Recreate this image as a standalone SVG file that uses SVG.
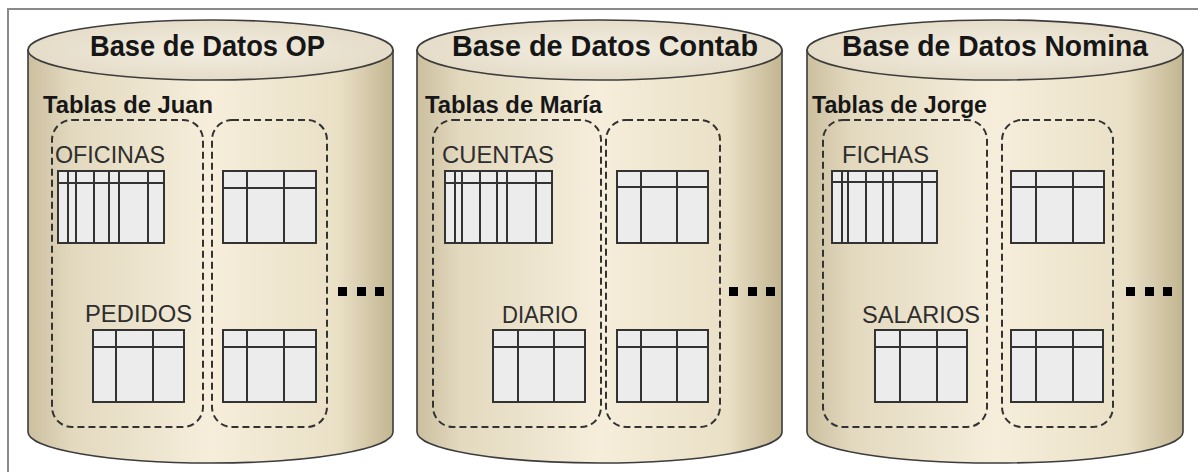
<svg xmlns="http://www.w3.org/2000/svg" width="1198" height="472" viewBox="0 0 1198 472">
<defs>
<linearGradient id="body" x1="0" y1="0" x2="1" y2="0">
<stop offset="0" stop-color="#cbbf9f"/>
<stop offset="0.12" stop-color="#e3d9bf"/>
<stop offset="0.5" stop-color="#f6eedb"/>
<stop offset="0.85" stop-color="#eae0c6"/>
<stop offset="1" stop-color="#c2b591"/>
</linearGradient>
<radialGradient id="top" cx="0.5" cy="0.5" r="0.6">
<stop offset="0" stop-color="#f3eee2"/>
<stop offset="1" stop-color="#e2d9c3"/>
</radialGradient>
<style>
.body{fill:url(#body);stroke:#3c3c3c;stroke-width:1.6}
.top{fill:url(#top);stroke:#3c3c3c;stroke-width:1.6}
.title{font-family:"Liberation Sans",Arial,sans-serif;font-weight:bold;font-size:29px;fill:#161616}
.owner{font-family:"Liberation Sans",Arial,sans-serif;font-weight:bold;font-size:23px;fill:#161616}
.tname{font-family:"Liberation Sans",Arial,sans-serif;font-size:23px;fill:#2e2e2e}
.grp{fill:none;stroke:#333;stroke-width:2;stroke-dasharray:7 4}
.tb{fill:#ececec;stroke:#333;stroke-width:2}
.tl{stroke:#333;stroke-width:2;fill:none}
.dot{fill:#000}
</style>
</defs>
<rect x="0" y="0" width="1198" height="472" fill="#fff"/>
<path d="M8,472 V9 H1198" fill="none" stroke="#8a8a8a" stroke-width="2"/>

<g id="db-op">
<path class="body" d="M28,50 V432 A182.5,31 0 0 0 393,432 V50 Z"/>
<ellipse class="top" cx="210.5" cy="50" rx="182.5" ry="30"/>
<text class="title" x="207.5" y="56" text-anchor="middle" textLength="235" lengthAdjust="spacingAndGlyphs">Base de Datos OP</text>
<text class="owner" x="43" y="113" textLength="170" lengthAdjust="spacingAndGlyphs">Tablas de Juan</text>
<rect class="grp" x="52" y="120" width="151" height="307" rx="20"/>
<rect class="grp" x="212" y="120" width="115" height="307" rx="20"/>
<text class="tname" x="55" y="163" textLength="110" lengthAdjust="spacingAndGlyphs">OFICINAS</text>
<rect class="tb" x="58" y="171" width="106" height="72"/>
<path class="tl" d="M58,183 H164 M68,171 V243 M76,171 V243 M94,171 V243 M109,171 V243 M119,171 V243 M148,171 V243"/>
<rect class="tb" x="223" y="171" width="93" height="72"/>
<path class="tl" d="M223,188 H316 M247,171 V243 M284,171 V243"/>
<text class="tname" x="85" y="322" textLength="107" lengthAdjust="spacingAndGlyphs">PEDIDOS</text>
<rect class="tb" x="93" y="330" width="91" height="72"/>
<path class="tl" d="M93,347 H184 M116,330 V402 M153,330 V402"/>
<rect class="tb" x="223" y="330" width="93" height="72"/>
<path class="tl" d="M223,347 H316 M247,330 V402 M284,330 V402"/>
<rect class="dot" x="338" y="287" width="9" height="9"/>
<rect class="dot" x="357" y="287" width="9" height="9"/>
<rect class="dot" x="375" y="287" width="9" height="9"/>
</g>

<g id="db-contab">
<path class="body" d="M417,50 V432 A182.5,31 0 0 0 782,432 V50 Z"/>
<ellipse class="top" cx="599.5" cy="50" rx="182.5" ry="30"/>
<text class="title" x="605" y="56" text-anchor="middle" textLength="306" lengthAdjust="spacingAndGlyphs">Base de Datos Contab</text>
<text class="owner" x="425" y="113" textLength="177" lengthAdjust="spacingAndGlyphs">Tablas de María</text>
<rect class="grp" x="433" y="120" width="168" height="307" rx="20"/>
<rect class="grp" x="606" y="120" width="114" height="307" rx="20"/>
<text class="tname" x="442" y="163" textLength="112" lengthAdjust="spacingAndGlyphs">CUENTAS</text>
<rect class="tb" x="445" y="171" width="107" height="72"/>
<path class="tl" d="M445,183 H552 M455,171 V243 M462,171 V243 M480,171 V243 M497,171 V243 M507,171 V243 M536,171 V243"/>
<rect class="tb" x="617" y="171" width="91" height="72"/>
<path class="tl" d="M617,187 H708 M641,171 V243 M677,171 V243"/>
<text class="tname" x="502" y="323" textLength="76" lengthAdjust="spacingAndGlyphs">DIARIO</text>
<rect class="tb" x="493" y="330" width="92" height="72"/>
<path class="tl" d="M493,347 H585 M518,330 V402 M554,330 V402"/>
<rect class="tb" x="617" y="330" width="91" height="72"/>
<path class="tl" d="M617,347 H708 M641,330 V402 M677,330 V402"/>
<rect class="dot" x="729" y="287" width="9" height="9"/>
<rect class="dot" x="748" y="287" width="9" height="9"/>
<rect class="dot" x="766" y="287" width="9" height="9"/>
</g>

<g id="db-nomina">
<path class="body" d="M807,50 V432 A188,31 0 0 0 1183,432 V50 Z"/>
<ellipse class="top" cx="995" cy="50" rx="188" ry="30"/>
<text class="title" x="995" y="56" text-anchor="middle" textLength="306" lengthAdjust="spacingAndGlyphs">Base de Datos Nomina</text>
<text class="owner" x="812" y="113" textLength="175" lengthAdjust="spacingAndGlyphs">Tablas de Jorge</text>
<rect class="grp" x="823" y="120" width="164" height="307" rx="20"/>
<rect class="grp" x="1002" y="120" width="111" height="307" rx="20"/>
<text class="tname" x="842" y="163" textLength="87" lengthAdjust="spacingAndGlyphs">FICHAS</text>
<rect class="tb" x="832" y="171" width="105" height="72"/>
<path class="tl" d="M832,182 H937 M842,171 V243 M848,171 V243 M866,171 V243 M883,171 V243 M893,171 V243 M922,171 V243"/>
<rect class="tb" x="1011" y="171" width="93" height="72"/>
<path class="tl" d="M1011,187 H1104 M1036,171 V243 M1073,171 V243"/>
<text class="tname" x="862" y="323" textLength="118" lengthAdjust="spacingAndGlyphs">SALARIOS</text>
<rect class="tb" x="875" y="330" width="92" height="72"/>
<path class="tl" d="M875,347 H967 M900,330 V402 M937,330 V402"/>
<rect class="tb" x="1011" y="330" width="92" height="72"/>
<path class="tl" d="M1011,347 H1103 M1036,330 V402 M1073,330 V402"/>
<rect class="dot" x="1126" y="287" width="9" height="9"/>
<rect class="dot" x="1145" y="287" width="9" height="9"/>
<rect class="dot" x="1163" y="287" width="9" height="9"/>
</g>

<g id="connectors"/>
</svg>
